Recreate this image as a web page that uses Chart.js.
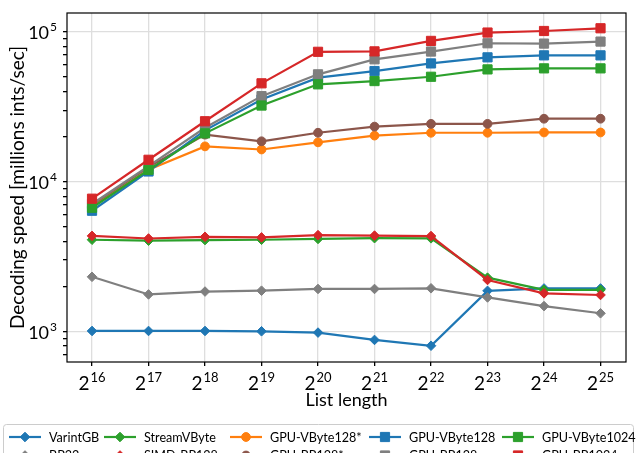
<!DOCTYPE html>
<html>
<head>
<meta charset="utf-8">
<script src="https://cdn.jsdelivr.net/npm/chart.js@4.4.0/dist/chart.umd.min.js"></script>
<style>
  html, body { margin: 0; padding: 0; background: #fff; overflow: hidden; }
  canvas { display: block; }
</style>
</head>
<body>
<canvas id="chart" width="637" height="453"></canvas>
<script>
// list length = 2^exp
const listExps = [16, 17, 18, 19, 20, 21, 22, 23, 24, 25];
const xTickExps = [16, 17, 18, 19, 20, 21, 22, 23, 24, 25];
const yTickExps = [3, 4, 5];

// decoding speed, millions ints/sec
const varintGB     = [1010, 1010, 1010, 1005, 985, 880, 805, 1870, 1940, 1940];
const bp32         = [2320, 1770, 1850, 1875, 1925, 1925, 1945, 1690, 1480, 1325];
const streamVByte  = [4100, 4040, 4080, 4100, 4150, 4200, 4190, 2290, 1900, 1900];
const simdBP128    = [4350, 4180, 4290, 4250, 4400, 4370, 4340, 2210, 1800, 1755];
const gpuVByte128s = [6800, 12000, 17200, 16400, 18300, 20300, 21200, 21200, 21300, 21300];
const gpuBP128s    = [7000, 12500, 20600, 18600, 21200, 23300, 24300, 24300, 26300, 26300];
const gpuVByte128  = [6400, 11700, 22000, 35300, 49400, 54700, 61500, 67500, 69600, 69600];
const gpuBP128     = [7100, 12700, 22900, 37200, 52000, 65500, 73800, 83800, 83400, 86000];
const gpuVByte1024 = [6700, 12000, 21000, 32200, 44600, 46900, 50100, 56100, 57000, 57000];
const gpuBP1024    = [7700, 14000, 25300, 45300, 73500, 74000, 86900, 98800, 101200, 105500];

const FONT = "Lato, 'DejaVu Sans', sans-serif";

// plot order (later ones on top); legend fills column-wise, 2 rows
const series = [
  { label: "VarintGB",       data: varintGB,     color: "#1f77b4", marker: "rectRot", r: 4.8 },
  { label: "BP32",           data: bp32,         color: "#7f7f7f", marker: "rectRot", r: 4.8 },
  { label: "StreamVByte",    data: streamVByte,  color: "#2ca02c", marker: "rectRot", r: 4.8 },
  { label: "SIMD-BP128",     data: simdBP128,    color: "#d62728", marker: "rectRot", r: 4.8 },
  { label: "GPU-VByte128*",  data: gpuVByte128s, color: "#ff7f0e", marker: "circle",  r: 4.4 },
  { label: "GPU-BP128*",     data: gpuBP128s,    color: "#8c564b", marker: "circle",  r: 4.4 },
  { label: "GPU-VByte128",   data: gpuVByte128,  color: "#1f77b4", marker: "rect",    r: 6.5 },
  { label: "GPU-BP128",      data: gpuBP128,     color: "#7f7f7f", marker: "rect",    r: 6.5 },
  { label: "GPU-VByte1024",  data: gpuVByte1024, color: "#2ca02c", marker: "rect",    r: 6.5 },
  { label: "GPU-BP1024",     data: gpuBP1024,    color: "#d62728", marker: "rect",    r: 6.5 },
];

const datasets = series.map((s, i) => ({
  label: s.label,
  data: listExps.map((e, j) => ({ x: e, y: s.data[j] })),
  borderColor: s.color,
  backgroundColor: s.color,
  borderWidth: 2.2,
  pointStyle: s.marker,
  pointRadius: s.r,
  pointBorderWidth: 1,
  pointBackgroundColor: s.color,
  pointBorderColor: s.color,
  tension: 0,
  order: -i,
}));

function drawPower(ctx, base, exp, x, y, bs, es, rise, align) {
  ctx.font = bs + "px " + FONT;
  const bw = ctx.measureText(base).width;
  ctx.font = es + "px " + FONT;
  const ew = ctx.measureText(exp).width;
  const w = bw + 1 + ew;
  const left = align === "center" ? x - w / 2 : x - w;
  ctx.textAlign = "left";
  ctx.textBaseline = "alphabetic";
  ctx.font = bs + "px " + FONT;
  ctx.fillText(base, left, y);
  ctx.font = es + "px " + FONT;
  ctx.fillText(exp, left + bw + 1, y - rise);
}

const legendCols = [9, 104, 230, 369, 502];
const legendRows = [437, 455.5];

const decorations = {
  id: "decorations",
  afterDraw(chart) {
    const { ctx, chartArea: a, scales } = chart;
    ctx.save();
    // axes frame
    ctx.strokeStyle = "#000";
    ctx.lineWidth = 1.2;
    ctx.strokeRect(a.left, a.top, a.right - a.left, a.bottom - a.top);

    // tick labels as powers
    ctx.fillStyle = "#000";
    xTickExps.forEach(e => {
      drawPower(ctx, "2", String(e), scales.x.getPixelForValue(e), 390, 19, 13, 8, "center");
    });
    yTickExps.forEach(e => {
      const y = scales.y.getPixelForValue(Math.pow(10, e));
      drawPower(ctx, "10", String(e), 57, y + 7, 18, 12, 8, "right");
    });

    // legend box
    ctx.fillStyle = "rgba(255,255,255,0.85)";
    ctx.strokeStyle = "#cccccc";
    ctx.lineWidth = 1;
    ctx.beginPath();
    ctx.roundRect(3.5, 424.5, 630, 60, 3);
    ctx.fill();
    ctx.stroke();

    series.forEach((s, i) => {
      const hx = legendCols[Math.floor(i / 2)];
      const hy = legendRows[i % 2];
      ctx.strokeStyle = s.color;
      ctx.fillStyle = s.color;
      ctx.lineWidth = 2.2;
      ctx.beginPath();
      ctx.moveTo(hx, hy);
      ctx.lineTo(hx + 32, hy);
      ctx.stroke();
      ctx.lineWidth = 1;
      Chart.helpers.drawPoint(ctx, { pointStyle: s.marker, radius: s.r, rotation: 0, borderWidth: 1 }, hx + 16, hy);
      ctx.fillStyle = "#000";
      ctx.font = "12.6px " + FONT;
      ctx.textAlign = "left";
      ctx.textBaseline = "middle";
      ctx.fillText(s.label, hx + 40, hy + 0.5);
    });
    ctx.restore();
  }
};

new Chart(document.getElementById("chart"), {
  type: "line",
  data: { datasets },
  plugins: [decorations],
  options: {
    responsive: false,
    animation: false,
    devicePixelRatio: 1,
    layout: { padding: { left: 0, top: 13, right: 11, bottom: 38 } },
    plugins: { legend: { display: false }, tooltip: { enabled: false } },
    scales: {
      x: {
        type: "linear",
        min: 15.557,
        max: 25.451,
        afterBuildTicks: s => { s.ticks = xTickExps.map(v => ({ value: v })); },
        afterFit: s => { s.height = 53; },
        ticks: { callback: () => "", autoSkip: false },
        grid: { color: "#dedede", lineWidth: 1.3, tickColor: "#000", tickLength: 4 },
        border: { display: false },
        title: {
          display: true,
          text: "List length",
          color: "#000",
          font: { family: FONT, size: 18 },
          padding: { top: 4, bottom: 4 },
        },
      },
      y: {
        type: "logarithmic",
        min: 627,
        max: 133400,
        afterBuildTicks: s => {
          const t = [];
          for (let e = 2; e <= 5; e++) {
            for (let m = 1; m <= 9; m++) {
              const v = m * Math.pow(10, e);
              if (v >= s.min && v <= s.max) t.push({ value: v, major: m === 1 });
            }
          }
          s.ticks = t;
        },
        afterFit: s => { s.width = 67; },
        ticks: { callback: () => "", autoSkip: false },
        grid: {
          color: c => (c.tick && c.tick.major ? "#dedede" : "rgba(0,0,0,0)"),
          lineWidth: 1.3,
          tickColor: "#000",
          tickLength: 4,
        },
        border: { display: false },
        title: {
          display: true,
          text: "Decoding speed [millions ints/sec]",
          color: "#000",
          font: { family: FONT, size: 19 },
          padding: { top: 6.6, bottom: 0 },
        },
      },
    },
  },
});
</script>
</body>
</html>
